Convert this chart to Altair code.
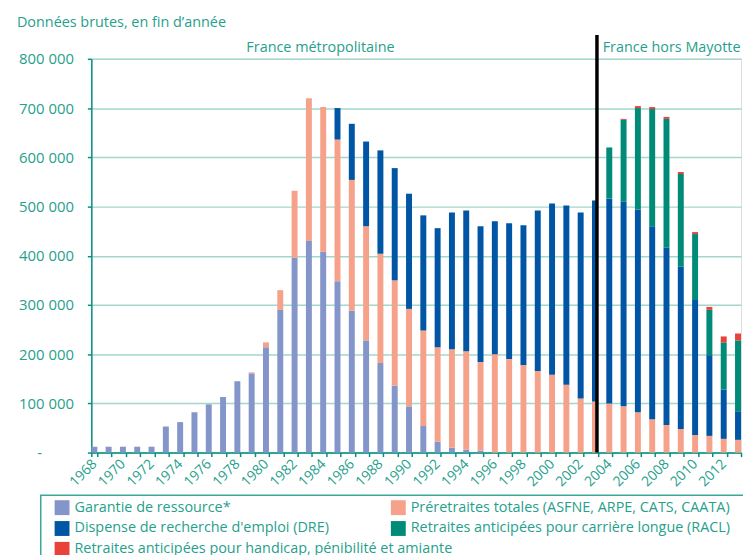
import altair as alt
import pandas as pd

years = [str(y) for y in range(1968, 2014)]

series = [
    "Garantie de ressource*",
    "Préretraites totales (ASFNE, ARPE, CATS, CAATA)",
    "Dispense de recherche d'emploi (DRE)",
    "Retraites anticipées pour carrière longue (RACL)",
    "Retraites anticipées pour handicap, pénibilité et amiante",
]
colors = ["#8395c9", "#f6a28a", "#0055a4", "#008b79", "#e8423a"]

# values in thousands, 1968 -> 2013
garantie = [12, 12, 12, 12, 12, 53, 62, 82, 98, 113, 145, 161, 214, 290, 396, 430,
            408, 348, 288, 228, 182, 136, 94, 54, 22, 10, 6, 4] + [0] * 18
preretraites = [0] * 11 + [2, 10, 40, 136, 290, 294, 288, 266, 232, 222, 214, 198,
                           194, 192, 200, 200, 180, 200, 190, 178, 166, 158, 138, 110,
                           104, 100, 94, 82, 68, 56, 48, 36, 34, 28, 26]
dre = [0] * 17 + [64, 114, 172, 210, 228, 234, 234, 242, 278, 286, 276, 270, 276, 284,
                  326, 348, 364, 378, 408, 416, 416, 412, 392, 360, 330, 274, 164, 100, 58]
racl = [0] * 36 + [104, 166, 206, 238, 262, 188, 134, 92, 96, 144]
handicap = [0] * 37 + [2, 4, 4, 4, 4, 4, 6, 12, 14]

y_ticks = [0, 100000, 200000, 300000, 400000, 500000, 600000, 700000, 800000]
zero_label = ["-"]

title_text = "Données brutes, en fin d’année"
zone1 = "France métropolitaine"
zone2 = "France hors Mayotte"
split_year = ["2003"]

# legend columns (row-major order of the reference legend)
leg_col1 = [0, 2, 4]
leg_col2 = [1, 3]

rows = []
for i, (s, vals) in enumerate(zip(series, [garantie, preretraites, dre, racl, handicap])):
    for y, v in zip(years, vals):
        if v > 0:
            rows.append({"year": y, "serie": s, "value": v * 1000, "ord": i})
df = pd.DataFrame(rows)

TEAL = "#26a08c"
AXIS = "#00927f"
FONT = "Open Sans"

bars = alt.Chart(df).mark_bar(size=6).encode(
    x=alt.X("year:O", scale=alt.Scale(domain=years, paddingInner=0.58, paddingOuter=0),
            axis=alt.Axis(title=None, labelExpr="parseInt(datum.value) % 2 == 0 ? datum.value : ''",
                          labelAngle=-45, labelAlign="right", labelBaseline="middle",
                          labelFontSize=14, labelColor=TEAL, labelFont=FONT,
                          tickBand="extent", tickSize=4, tickColor=AXIS, tickWidth=1.5,
                          domainColor=AXIS, domainWidth=1.5, labelPadding=5,
                          grid=False, labelOverlap=False)),
    y=alt.Y("value:Q", stack="zero", scale=alt.Scale(domain=[0, 800000], nice=False),
            axis=alt.Axis(title=None, values=y_ticks,
                          labelExpr="datum.value == 0 ? '' : replace(format(datum.value, ',d'), ',', ' ')",
                          labelFontSize=15, labelColor=TEAL, labelFont=FONT,
                          tickSize=4, tickColor=AXIS, tickWidth=1.5,
                          domainColor=AXIS, domainWidth=1.5,
                          gridColor="#a3d6cd", gridWidth=1.5, labelPadding=14)),
    color=alt.Color("serie:N", scale=alt.Scale(domain=series, range=colors), legend=None),
    order=alt.Order("ord:Q", sort="ascending"),
)


def legend_layer(idx, lx, ly):
    names = [series[i] for i in idx]
    cols = [colors[i] for i in idx]
    d = pd.DataFrame({"serie": names, "year": [years[0]] * len(names)})
    return alt.Chart(d).mark_bar(size=0, opacity=1).encode(
        x=alt.X("year:O"),
        y=alt.value(397), y2=alt.value(397),
        color=alt.Color("serie:N", scale=alt.Scale(domain=names, range=cols),
                        legend=alt.Legend(title=None, orient="none", legendX=lx, legendY=ly,
                                          direction="vertical", rowPadding=5,
                                          symbolType="square", symbolSize=225,
                                          symbolStrokeWidth=0, symbolOpacity=1,
                                          labelFontSize=14.5, labelColor=TEAL, labelFont=FONT,
                                          labelLimit=700, labelOffset=5, padding=0)),
    )


leg1 = legend_layer(leg_col1, -37, 445)
leg2 = legend_layer(leg_col2, 302, 445)

box = alt.Chart(pd.DataFrame({"k": [0]})).mark_rect(
    fillOpacity=0, stroke="#3aa898", strokeWidth=1.5
).encode(x=alt.value(-51), x2=alt.value(680), y=alt.value(440), y2=alt.value(520))

zero = alt.Chart(pd.DataFrame({"v": [0], "t": zero_label})).mark_text(
    align="center", baseline="middle", fontSize=15, color=TEAL, font=FONT
).encode(text="t:N", y="v:Q", x=alt.value(-52))

rule = alt.Chart(pd.DataFrame({"year": split_year})).mark_rule(
    color="black", strokeWidth=3.5, xOffset=2
).encode(x=alt.X("year:O"), y=alt.value(-24), y2=alt.value(397))

t_title = alt.Chart(pd.DataFrame({"t": [title_text]})).mark_text(
    align="left", baseline="middle", fontSize=14.5, color=TEAL, font=FONT
).encode(text="t:N", x=alt.value(-75), y=alt.value(-36))

t_z1 = alt.Chart(pd.DataFrame({"t": [zone1]})).mark_text(
    align="center", baseline="middle", fontSize=14.5, color=TEAL, font=FONT
).encode(text="t:N", x=alt.value(231), y=alt.value(-11))

t_z2 = alt.Chart(pd.DataFrame({"t": [zone2]})).mark_text(
    align="center", baseline="middle", fontSize=14.5, color=TEAL, font=FONT
).encode(text="t:N", x=alt.value(585), y=alt.value(-11))

chart = alt.layer(bars, leg1, leg2, box, zero, rule, t_title, t_z1, t_z2).resolve_scale(
    color="independent"
).properties(
    width=655, height=397,
    autosize=alt.AutoSizeParams(type="none"),
    padding={"left": 84, "top": 49, "right": 2, "bottom": 105},
).configure_view(stroke=AXIS, strokeWidth=1.5).configure(font=FONT)

chart.save("out.html", embed_options={"renderer": "svg", "actions": False})
